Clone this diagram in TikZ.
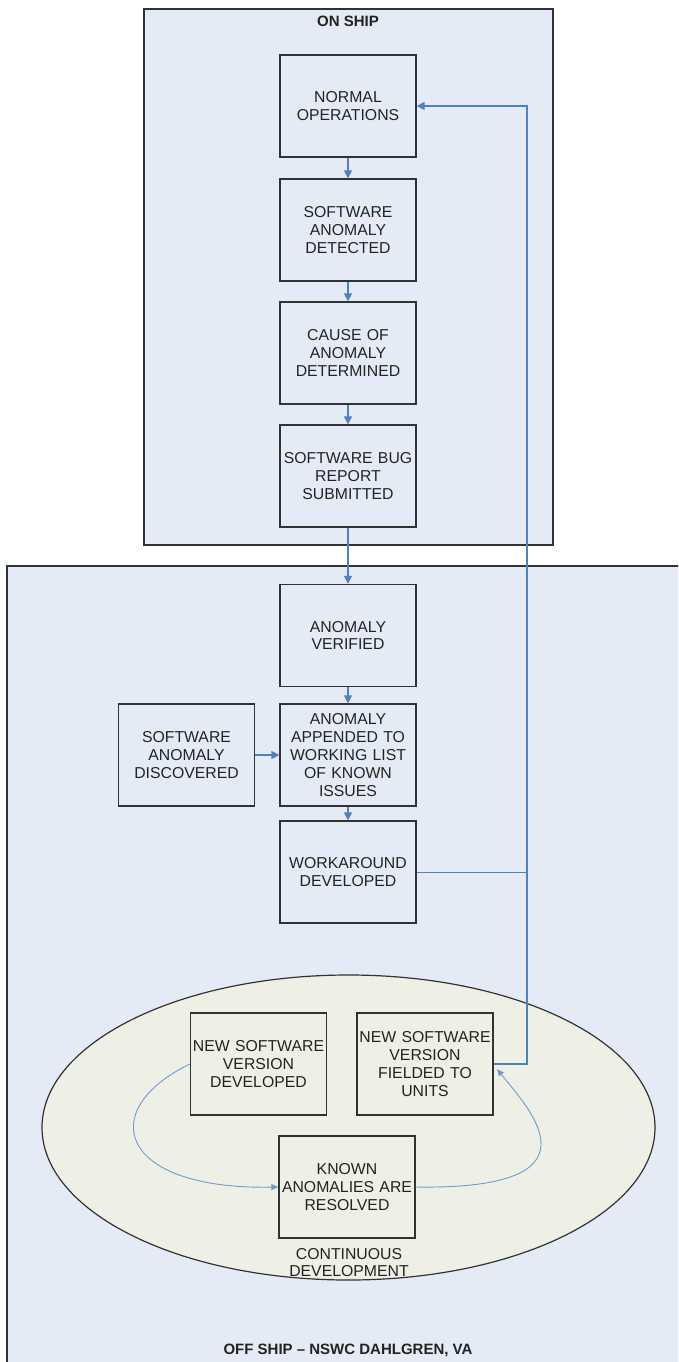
\documentclass[tikz,border=0pt]{standalone}
\usepackage{fontspec}
\setmainfont{Liberation Sans}
\usetikzlibrary{arrows.meta}
\definecolor{bgblue}{RGB}{229,235,246}
\definecolor{ellfill}{RGB}{238,240,230}
\definecolor{frame}{RGB}{50,50,50}
\definecolor{arr}{RGB}{79,129,189}
\definecolor{txt}{RGB}{35,35,35}
\tikzset{
  stepbox/.style={draw=frame, line width=1.3pt, minimum width=136pt, minimum height=102pt,
    align=center, text width=135pt, inner sep=0pt, font=\fontsize{15.8pt}{17.8pt}\selectfont, text=txt},
  flow/.style={draw=arr, line width=1.4pt, -{Triangle[length=8pt,width=8pt]}},
  thinflow/.style={draw=arr!80, line width=0.9pt, -{Triangle[length=7pt,width=6pt]}},
  title/.style={font=\fontsize{15pt}{18pt}\selectfont\bfseries, text=txt},
  plain/.style={font=\fontsize{15.8pt}{17.8pt}\selectfont, text=txt, align=center},
}
\begin{document}
\begin{tikzpicture}[x=1pt,y=-1pt]
\clip (0,0) rectangle (678,1362);
\fill[white] (0,0) rectangle (678,1362);
% frames
\draw[frame, fill=bgblue, line width=1.4pt] (144,9) rectangle (553,545);
\draw[frame, fill=bgblue, line width=1.4pt] (7,566) rectangle (690,1375);
\node[title] (onship) at (348,21) {ON SHIP};
\node[title] (offship) at (348,1350) {OFF SHIP – NSWC DAHLGREN, VA};
% ellipse
\draw[frame, fill=ellfill, line width=1.2pt] (348.5,1127.5) ellipse [x radius=306.5, y radius=152.5];
% boxes
\node[stepbox] (normal) at (348,106) {NORMAL\\OPERATIONS};
\node[stepbox] (detected) at (348,230) {SOFTWARE\\ANOMALY\\DETECTED};
\node[stepbox] (cause) at (348,353) {CAUSE OF\\ANOMALY\\DETERMINED};
\node[stepbox] (bug) at (348,476) {SOFTWARE BUG\\REPORT\\SUBMITTED};
\node[stepbox] (verified) at (348,635.5) {ANOMALY\\VERIFIED};
\node[stepbox] (appended) at (348,755) {ANOMALY\\APPENDED TO\\WORKING LIST\\OF KNOWN\\ISSUES};
\node[stepbox] (discovered) at (186.5,755) {SOFTWARE\\ANOMALY\\DISCOVERED};
\node[stepbox] (workaround) at (348,872) {WORKAROUND\\DEVELOPED};
\node[stepbox] (newsw) at (258.5,1064) {NEW SOFTWARE\\VERSION\\DEVELOPED};
\node[stepbox] (fielded) at (425,1064) {NEW SOFTWARE\\VERSION\\FIELDED TO\\UNITS};
\node[stepbox] (known) at (347,1187) {KNOWN\\ANOMALIES ARE\\RESOLVED};
\node[plain] (contdev) at (349,1262.5) {CONTINUOUS\\DEVELOPMENT};
% connectors
\draw[flow] (normal) -- (detected);
\draw[flow] (detected) -- (cause);
\draw[flow] (cause) -- (bug);
\draw[flow] (bug) -- (verified);
\draw[flow] (verified) -- (appended);
\draw[flow] (appended) -- (workaround);
\draw[flow] (discovered) -- (appended);
\coordinate (rail) at (527,0);
\draw[flow] (fielded.east) -- (fielded.east -| rail) |- (normal.east);
\draw[draw=arr, line width=1pt] (workaround.east) -- (workaround.east -| rail);
\draw[thinflow] (newsw.west) .. controls (95,1110) and (118,1190) .. (known.west);
\draw[thinflow] (known.east) .. controls (607,1190) and (530,1110) .. (497,1069);
\end{tikzpicture}
\end{document}
